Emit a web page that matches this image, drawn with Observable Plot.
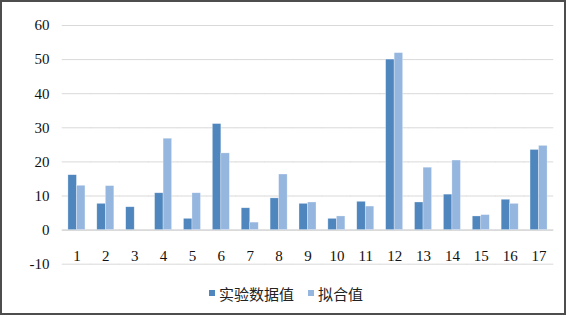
<!DOCTYPE html>
<html>
<head>
<meta charset="utf-8">
<script src="https://cdn.jsdelivr.net/npm/d3@7"></script>
<script src="https://cdn.jsdelivr.net/npm/@observablehq/plot@0.6"></script>
<style>
  html, body { margin: 0; padding: 0; background: #fff; }
  #wrap { position: relative; width: 567px; height: 317px; overflow: hidden; }
  #frame { position: absolute; left: 0; top: 0; width: 566px; height: 315px; box-sizing: border-box;
           border: 2px solid #4d4d4d; pointer-events: none; }
  #legend { position: absolute; left: 0; top: 280px; width: 567px; height: 26px; display: flex;
            justify-content: center; align-items: center; padding-left: 5px; box-sizing: border-box;
            font-family: "Noto Sans CJK SC", sans-serif; font-size: 15px; color: #222; }
  .sw { display: inline-block; width: 6px; height: 6px; margin-right: 4px; }
  .item { display: flex; align-items: center; }
  .item + .item { margin-left: 14px; }
</style>
</head>
<body>
<div id="wrap">
  <div id="chart"></div>
  <div id="legend"></div>
  <div id="frame"></div>
</div>
<script>
const categories = ["1","2","3","4","5","6","7","8","9","10","11","12","13","14","15","16","17"];
const seriesNames = ["实验数据值", "拟合值"];
const experimental = [16.1, 7.7, 6.7, 10.8, 3.3, 31.1, 6.4, 9.3, 7.7, 3.3, 8.3, 50.0, 8.1, 10.4, 4.0, 8.9, 23.5];
const fitted = [13.0, 12.9, null, 26.8, 10.8, 22.5, 2.2, 16.3, 8.1, 4.0, 6.9, 51.9, 18.3, 20.4, 4.4, 7.7, 24.7];
const yTicks = [-10, 0, 10, 20, 30, 40, 50, 60];
const colors = ["#4F86BE", "#95B6DE"];

const data = categories.flatMap((c, i) => [
  {cat: c, series: seriesNames[0], value: experimental[i]},
  {cat: c, series: seriesNames[1], value: fitted[i]}
]).filter(d => d.value != null);

const chart = Plot.plot({
  width: 567,
  height: 280,
  marginLeft: 62,
  marginRight: 14,
  marginTop: 25,
  marginBottom: 16.3,
  style: {background: "transparent", color: "#111"},
  fx: {domain: categories, paddingInner: 0.41, paddingOuter: 0.205, round: false, label: null},
  x: {domain: seriesNames, padding: 0, round: false, axis: null},
  y: {domain: [-10, 60], label: null},
  color: {domain: seriesNames, range: colors},
  marks: [
    Plot.ruleY(yTicks.filter(t => t !== 0), {stroke: "#d9d9d9", strokeWidth: 1, insetLeft: -6.2, insetRight: -6.2}),
    Plot.ruleY([0], {stroke: "#d9d9d9", strokeWidth: 1.7, insetLeft: -6.2, insetRight: -6.2}),
    Plot.barY(data, {fx: "cat", x: "series", y: "value", fill: "series", stroke: "#ffffff", strokeOpacity: 0.5, strokeWidth: 0.6}),
    Plot.axisY(yTicks, {tickSize: 0, tickPadding: 19, label: null, tickFormat: d => String(d)}),
    Plot.axisFx({anchor: "bottom", tickSize: 0, dy: -23, label: null})
  ]
});
const svg = d3.select(chart);
svg.attr("font-family", "Liberation Serif, Times New Roman, serif").attr("font-size", 15);
svg.selectAll("text")
   .attr("font-family", "Liberation Serif, Times New Roman, serif")
   .attr("font-size", 15)
   .attr("fill", "#111");
document.getElementById("chart").appendChild(chart);

const legend = document.getElementById("legend");
seriesNames.forEach((name, i) => {
  const item = document.createElement("span");
  item.className = "item";
  const sw = document.createElement("span");
  sw.className = "sw";
  sw.style.background = colors[i];
  item.appendChild(sw);
  item.appendChild(document.createTextNode(name));
  legend.appendChild(item);
});
</script>
</body>
</html>
